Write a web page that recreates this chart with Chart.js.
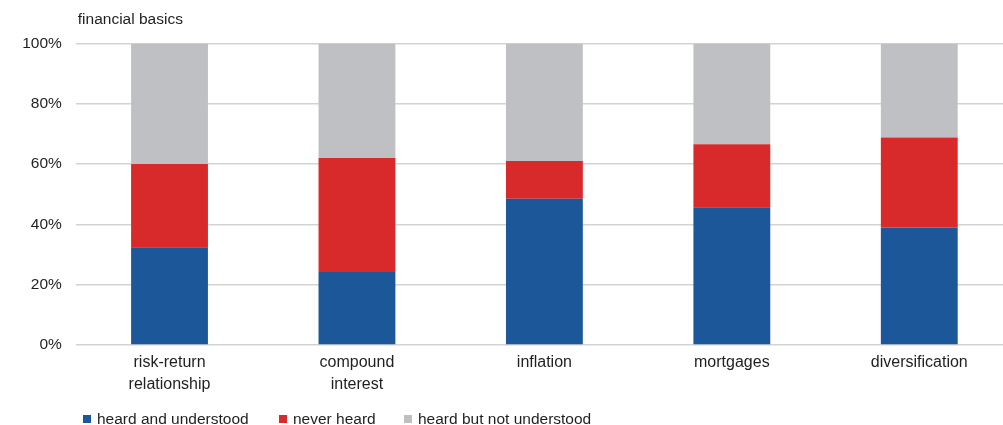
<!DOCTYPE html>
<html>
<head>
<meta charset="utf-8">
<script src="https://cdn.jsdelivr.net/npm/chart.js@4"></script>
<style>
  html, body { margin: 0; padding: 0; background: #fff; overflow: hidden; }
  #wrap { position: relative; width: 1013px; height: 425px; }
  #legend { position: absolute; left: 83px; top: 409.5px; font: 15.5px 'Liberation Sans', Arial, sans-serif; color: #1f1f1f; white-space: nowrap; }
  #legend span.item { position: absolute; top: 0; line-height: 18px; }
  #legend i { display: inline-block; width: 8px; height: 8px; margin-right: 6px; vertical-align: 1px; }
</style>
</head>
<body>
<div id="wrap"><canvas id="chart"></canvas><div id="legend"></div></div>
<script>
const categories = [['risk-return', 'relationship'], ['compound', 'interest'], 'inflation', 'mortgages', 'diversification'];
const heardUnderstood = [32.4, 24.2, 48.5, 45.7, 39.0];
const neverHeard = [27.6, 37.8, 12.5, 20.9, 29.8];
const heardNotUnderstood = [40.0, 38.0, 39.0, 33.4, 31.2];
const yTicks = [0, 20, 40, 60, 80, 100];

const FONT = "'Liberation Sans', Arial, sans-serif";
const TEXT = '#1f1f1f';

// title drawn above the plot, aligned with its left edge
const titlePlugin = {
  id: 'topTitle',
  afterDraw(chart) {
    const ctx = chart.ctx;
    ctx.save();
    ctx.font = '15.5px ' + FONT;
    ctx.fillStyle = TEXT;
    ctx.textBaseline = 'middle';
    ctx.fillText('financial basics', chart.chartArea.left + 2, 20);
    ctx.restore();
  }
};

const chart = new Chart(document.getElementById('chart'), {
  type: 'bar',
  data: {
    labels: categories,
    datasets: [
      { label: 'heard and understood', data: heardUnderstood, backgroundColor: '#1c5799' },
      { label: 'never heard', data: neverHeard, backgroundColor: '#d92a2b' },
      { label: 'heard but not understood', data: heardNotUnderstood, backgroundColor: '#bfc0c4' }
    ]
  },
  options: {
    responsive: true,
    maintainAspectRatio: false,
    animation: false,
    layout: { padding: { top: 43.5, left: 0, right: 0, bottom: 0 } },
    datasets: { bar: { categoryPercentage: 1, barPercentage: 0.41 } },
    scales: {
      x: {
        stacked: true,
        grid: { display: false, drawTicks: false },
        border: { display: false },
        ticks: { color: TEXT, font: { family: FONT, size: 16, lineHeight: 1.375 }, maxRotation: 0, padding: 7 },
        afterFit: s => { s.height = 80; }
      },
      y: {
        stacked: true,
        min: 0,
        max: 100,
        afterBuildTicks: s => { s.ticks = yTicks.map(v => ({ value: v })); },
        grid: { color: '#d3d3d3', lineWidth: 1.5, drawTicks: false },
        border: { display: false },
        ticks: { color: TEXT, font: { family: FONT, size: 15.5 }, padding: 14, callback: v => v + '%' },
        afterFit: s => { s.width = 75.8; }
      }
    },
    plugins: {
      tooltip: { enabled: false },
      legend: { display: false }
    }
  },
  plugins: [titlePlugin]
});

// legend built from the chart's datasets
const legendX = [0, 196, 321];
const legend = document.getElementById('legend');
chart.data.datasets.forEach((ds, i) => {
  const item = document.createElement('span');
  item.className = 'item';
  item.style.left = legendX[i] + 'px';
  item.innerHTML = '<i style="background:' + ds.backgroundColor + '"></i>' + ds.label;
  legend.appendChild(item);
});
</script>
</body>
</html>
